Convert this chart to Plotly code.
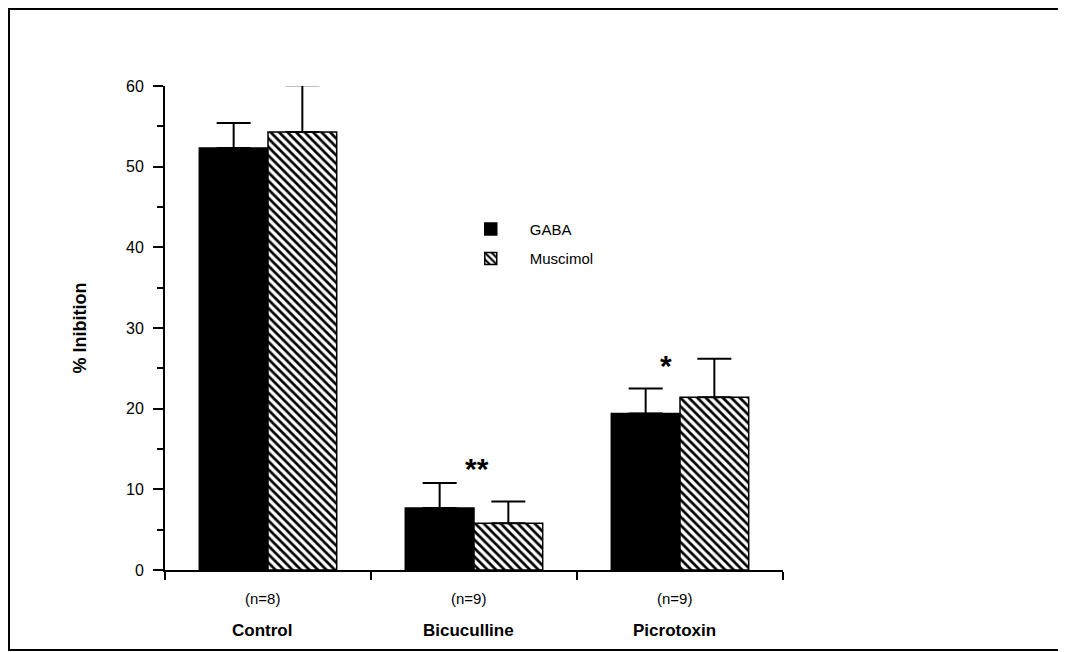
import plotly.graph_objects as go

categories = ["Control", "Bicuculline", "Picrotoxin"]
n_labels = ["(n=8)", "(n=9)", "(n=9)"]
gaba = [52.3, 7.7, 19.4]
gaba_err = [3.1, 3.1, 3.1]
muscimol = [54.3, 5.8, 21.4]
muscimol_err = [5.8, 2.7, 4.8]
sig_labels = ["", "**", "*"]
sig_y = [0, 12.6, 25.4]

FONT = "Liberation Sans, Arial, Helvetica, sans-serif"

fig = go.Figure()
fig.add_trace(go.Bar(
    x=categories, y=gaba, name="GABA", legendgroup="g1",
    marker=dict(color="black", line=dict(color="black", width=1.5)),
    error_y=dict(type="data", array=gaba_err, symmetric=False,
                 arrayminus=[0] * len(gaba_err), color="black",
                 thickness=2, width=17),
))
fig.add_trace(go.Bar(
    x=categories, y=muscimol, name="Muscimol", legendgroup="g2",
    marker=dict(color="white", line=dict(color="black", width=1.5),
                pattern=dict(shape="\\", fgcolor="black", bgcolor="white",
                             size=6, solidity=0.45, fillmode="replace")),
    error_y=dict(type="data", array=muscimol_err, symmetric=False,
                 arrayminus=[0] * len(muscimol_err), color="black",
                 thickness=2, width=17),
))

annotations = []
for cat, n in zip(categories, n_labels):
    annotations.append(dict(x=cat, y=-0.058, xref="x", yref="paper", text=n,
                            showarrow=False, xshift=-6, yanchor="middle",
                            font=dict(family=FONT, size=15, color="black")))
    annotations.append(dict(x=cat, y=-0.126, xref="x", yref="paper",
                            text="<b>%s</b>" % cat, showarrow=False, xshift=-6,
                            yanchor="middle",
                            font=dict(family=FONT, size=17, color="black")))
sig_shift = [0, 3, -14]
for cat, s, yy, sh in zip(categories, sig_labels, sig_y, sig_shift):
    if s:
        annotations.append(dict(x=cat, y=yy, xref="x", yref="y",
                                text="<b>%s</b>" % s, showarrow=False,
                                xshift=sh, yanchor="middle",
                                font=dict(family=FONT, size=30, color="black")))

fig.update_layout(
    width=1058, height=644,
    margin=dict(l=157, r=283, t=78, b=82),
    paper_bgcolor="white", plot_bgcolor="white",
    font=dict(family=FONT, size=16, color="black"),
    barmode="group", bargap=0.333, bargroupgap=0,
    showlegend=True,
    legend=dict(x=0.464, y=0.738, xanchor="left", yanchor="top",
                bgcolor="rgba(0,0,0,0)", font=dict(family=FONT, size=15),
                tracegroupgap=7, traceorder="grouped", itemwidth=68),
    annotations=annotations,
    shapes=[dict(type="rect", xref="paper", yref="paper",
                 x0=-0.2524, x1=1.4547, y0=-0.1653, y1=1.159,
                 line=dict(color="black", width=2))],
    xaxis=dict(type="category", range=[-0.5, 2.5], tickson="boundaries",
               ticks="outside", ticklen=8, tickwidth=2, tickcolor="black",
               showticklabels=False, showline=True, linewidth=2,
               linecolor="black", showgrid=False, zeroline=False),
    yaxis=dict(range=[0, 60], dtick=10, tick0=0, ticks="outside", ticklen=10,
               tickwidth=2, tickcolor="black", showline=True, linewidth=2,
               linecolor="black", showgrid=False, zeroline=False,
               ticklabelstandoff=6,
               tickfont=dict(family=FONT, size=16),
               minor=dict(dtick=5, ticks="outside", ticklen=6, tickwidth=1.5,
                          tickcolor="black", showgrid=False),
               title=dict(text="<b>% Inibition</b>", standoff=35,
                          font=dict(family=FONT, size=18))),
)

fig.write_html("out.html")
